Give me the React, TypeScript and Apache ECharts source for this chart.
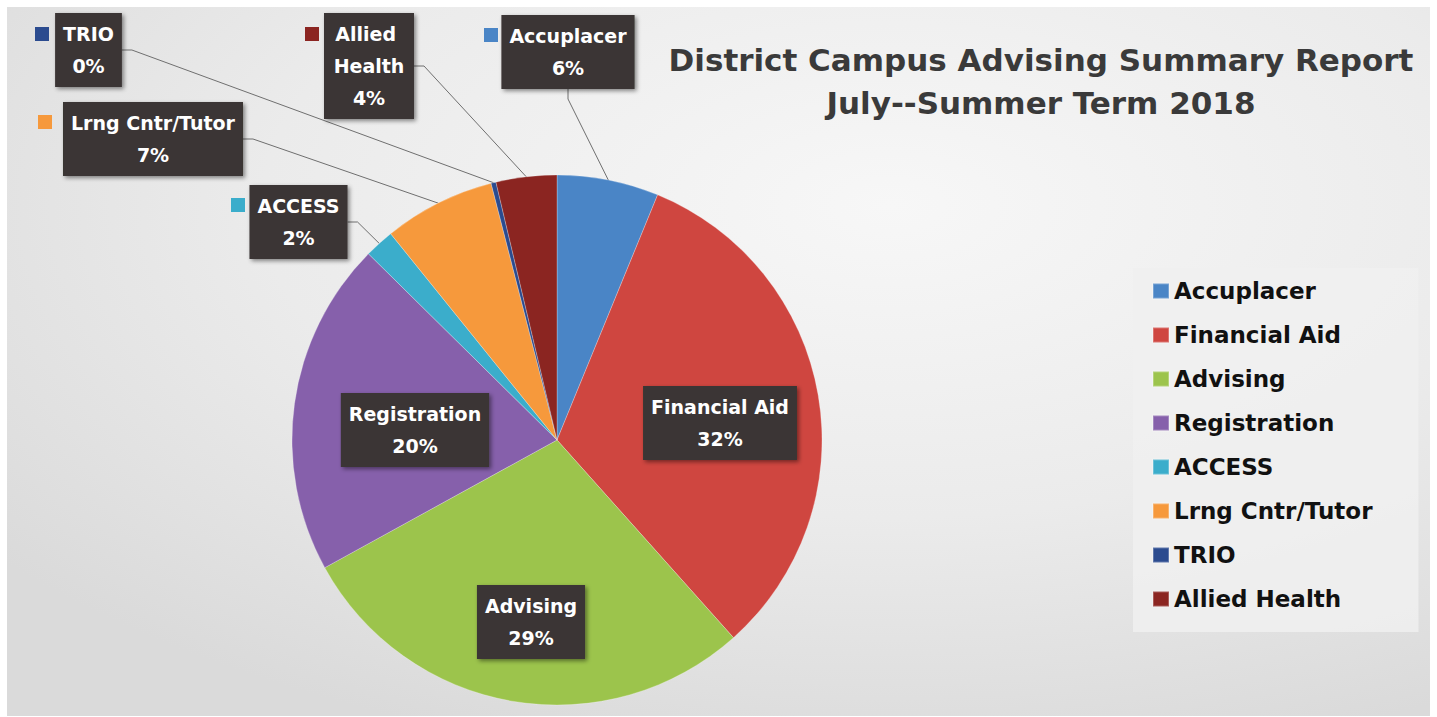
import React, { useEffect, useRef } from "react";
import * as echarts from "echarts";

// ---- data ----
const categories = ["Accuplacer", "Financial Aid", "Advising", "Registration", "ACCESS", "Lrng Cntr/Tutor", "TRIO", "Allied Health"];
const shares = [6.2, 32.2, 28.6, 20.4, 1.8, 6.8, 0.3, 3.7];
const sliceColors = ["#4a85c6", "#cf4640", "#9cc44c", "#8660ab", "#3badcb", "#f6993c", "#2b4b8f", "#8b2521"];
const titleLines = ["District Campus Advising Summary Report", "July--Summer Term 2018"];

// ---- label placement (style only) ----
const insideNames = ["Financial Aid", "Advising", "Registration"];
// box centre x, box top y for outside labels; centre x/y for inside ones
const boxPos: Record<string, { x: number; y: number }> = {
  "Accuplacer": { x: 568, y: 15 },
  "Allied Health": { x: 369, y: 13 },
  "TRIO": { x: 88.5, y: 13 },
  "Lrng Cntr/Tutor": { x: 153, y: 102 },
  "ACCESS": { x: 298.5, y: 185 },
  "Financial Aid": { x: 720, y: 423 },
  "Registration": { x: 415, y: 430 },
  "Advising": { x: 531, y: 622 },
};
const keyPos: Record<string, { x: number; y: number }> = {
  "Accuplacer": { x: 484, y: 28 },
  "Allied Health": { x: 305, y: 27 },
  "TRIO": { x: 35, y: 27 },
  "Lrng Cntr/Tutor": { x: 38, y: 115 },
  "ACCESS": { x: 231, y: 198 },
};

const FONT = "DejaVu Sans";

export default function App() {
  const ref = useRef<HTMLDivElement>(null);
  useEffect(() => {
    if (!ref.current) return;
    const chart = echarts.init(ref.current, null, { renderer: "svg" });
    const boxStyle = {
      color: "#ffffff",
      fontFamily: FONT,
      fontWeight: "bold" as const,
      fontSize: 19,
      lineHeight: 32,
      backgroundColor: "#3a3634",
      padding: [5, 8, 5, 8],
      shadowColor: "rgba(0,0,0,0.45)",
      shadowBlur: 4,
      shadowOffsetX: 2,
      shadowOffsetY: 2,
    };
    const mainData = categories.map((n, i) => {
      const inside = insideNames.includes(n);
      const item: any = {
        name: n,
        value: shares[i],
        itemStyle: { color: sliceColors[i] },
        labelLine: { show: !inside },
      };
      if (n === "Allied Health") item.label = { width: 74, overflow: "break" };
      return item;
    });
    const keyData = categories.map((n, i) => ({
      name: n,
      value: shares[i],
      itemStyle: { color: "rgba(0,0,0,0)" },
      label: {
        show: !insideNames.includes(n),
        rich: { sq: { width: 14, height: 14, backgroundColor: sliceColors[i] } },
      },
    }));
    chart.setOption({
      animation: false,
      backgroundColor: "#ffffff",
      graphic: [
        {
          type: "rect",
          z: -100,
          silent: true,
          shape: { x: 7, y: 7, width: 1423, height: 709 },
          style: {
            fill: new echarts.graphic.RadialGradient(0.62, 0.28, 0.8, [
              { offset: 0, color: "#f7f7f7" },
              { offset: 0.55, color: "#ebebeb" },
              { offset: 1, color: "#dadada" },
            ]),
          },
        },
        {
          type: "text",
          x: 1041,
          y: 60,
          z: 10,
          style: {
            text: titleLines[0],
            align: "center",
            verticalAlign: "middle",
            fill: "#3a3a3a",
            font: `bold 31px ${FONT}`,
          },
        },
        {
          type: "text",
          x: 1041,
          y: 103,
          z: 10,
          style: {
            text: titleLines[1],
            align: "center",
            verticalAlign: "middle",
            fill: "#3a3a3a",
            font: `bold 31px ${FONT}`,
          },
        },
      ],
      legend: {
        orient: "vertical",
        left: 1133,
        top: 268,
        padding: [8, 46, 18, 19],
        backgroundColor: "rgba(240,240,240,0.85)",
        itemWidth: 16,
        itemHeight: 15,
        itemGap: 14,
        icon: "rect",
        data: categories,
        textStyle: { fontFamily: FONT, fontWeight: "bold", fontSize: 23, lineHeight: 30, color: "#111111" },
      },
      series: [
        {
          type: "pie",
          center: [557, 440],
          radius: 265,
          startAngle: 90,
          avoidLabelOverlap: false,
          data: mainData,
          itemStyle: { borderColor: "rgba(255,255,255,0.25)", borderWidth: 1 },
          label: {
            show: true,
            position: "outside",
            formatter: (p: any) => `${p.name}\n${Math.round(p.percent)}%`,
            ...boxStyle,
          },
          labelLine: { show: true, length: 10, length2: 10, lineStyle: { color: "#6f6f6f", width: 1 } },
          labelLayout: (p: any) => {
            const n = categories[p.dataIndex];
            const pos = boxPos[n];
            if (insideNames.includes(n)) {
              return { x: pos.x, y: pos.y, align: "center", verticalAlign: "middle" };
            }
            return { x: pos.x, y: pos.y, align: "center", verticalAlign: "top" };
          },
        },
        {
          type: "pie",
          center: [557, 440],
          radius: 265,
          startAngle: 90,
          silent: true,
          legendHoverLink: false,
          avoidLabelOverlap: false,
          data: keyData,
          label: { show: true, position: "outside", formatter: "{sq|}" },
          labelLine: { show: false },
          labelLayout: (p: any) => {
            const n = categories[p.dataIndex];
            const pos = keyPos[n];
            if (!pos) return {};
            return { x: pos.x, y: pos.y, align: "left", verticalAlign: "top" };
          },
        },
      ],
    });
    return () => chart.dispose();
  }, []);
  return <div ref={ref} style={{ position: "absolute", left: 0, top: 0, width: 1437, height: 717 }} />;
}
